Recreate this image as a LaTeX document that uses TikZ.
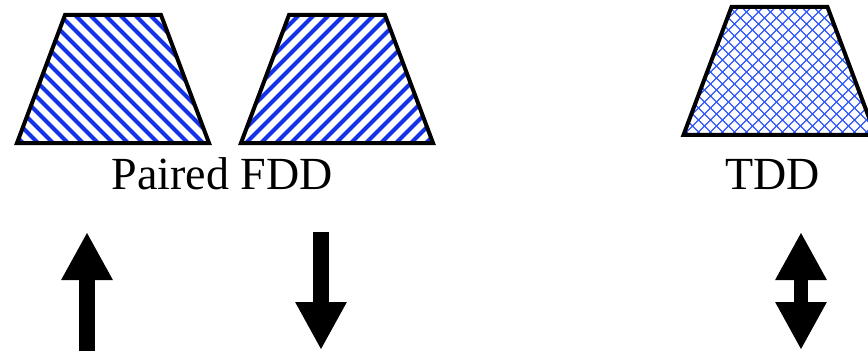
\documentclass[tikz,border=0pt]{standalone}
\usepackage{fontspec}
\setmainfont{Liberation Serif}
\usepackage{tikz}
\usetikzlibrary{arrows.meta,calc}
\definecolor{fddblue}{RGB}{20,50,230}
\definecolor{tddblue}{RGB}{45,85,250}
\tikzstyle{trapline} = [draw=black, line width=3pt, line join=miter]
\tikzstyle{stripe} = [draw=fddblue, line width=3pt]
\tikzstyle{hatch} = [draw=tddblue, line width=0.9pt]
\tikzstyle{bigarrow} = [line width=12pt, line cap=butt]
\tikzstyle{duplex} = [anchor=base, inner sep=0pt, font={\fontsize{34.5}{40}\selectfont}]
\tikzset{head/.style={-{Triangle[length=36pt, width=36pt]}}}

\begin{document}
\begin{tikzpicture}[x=0.75pt, y=-0.75pt]
  \useasboundingbox (0,0) rectangle (868,353);

  % fdd uplink band
  \begin{scope}
    \clip (65,15) -- (161,15) -- (209,143) -- (17,143) -- cycle;
    \foreach \c in {-150,-135,...,225}
      \draw[stripe] (\c,0) -- ++(160,160);
  \end{scope}
  \draw[trapline] (65,15) -- (161,15) -- (209,143) -- (17,143) -- cycle;

  % fdd downlink band
  \begin{scope}[shift={(224,0)}]
    \clip (65,15) -- (161,15) -- (209,143) -- (17,143) -- cycle;
    \foreach \c in {0,15,...,390}
      \draw[stripe] (\c,0) -- ++(-160,160);
  \end{scope}
  \begin{scope}[shift={(224,0)}]
    \draw[trapline] (65,15) -- (161,15) -- (209,143) -- (17,143) -- cycle;
  \end{scope}

  % tdd band
  \begin{scope}[shift={(666.5,-8)}]
    \begin{scope}
      \clip (65,15) -- (161,15) -- (209,143) -- (17,143) -- cycle;
      \foreach \c in {-156,-144,...,228} {
        \draw[hatch] (\c,0) -- ++(160,160);
        \draw[hatch] ({\c+160},0) -- ++(-160,160);
      }
    \end{scope}
    \draw[trapline] (65,15) -- (161,15) -- (209,143) -- (17,143) -- cycle;
  \end{scope}

  \node[duplex] (fddlabel) at (222,190) {Paired FDD};
  \node[duplex] (tddlabel) at (772.5,190) {TDD};

  \coordinate (ulfoot) at (87,351);
  \coordinate (ultip) at (87,232);
  \coordinate (dlfoot) at (321,232);
  \coordinate (dltip) at (321,350);
  \coordinate (tddtop) at (801,232);
  \coordinate (tddbot) at (801,350);

  \draw[bigarrow, head] (ulfoot) -- (ultip);
  \draw[bigarrow, head] (dlfoot) -- (dltip);
  \draw[bigarrow, line width=11pt, {Triangle[length=36pt, width=36pt]}-{Triangle[length=36pt, width=36pt]}] (tddtop) -- (tddbot);
\end{tikzpicture}
\end{document}
